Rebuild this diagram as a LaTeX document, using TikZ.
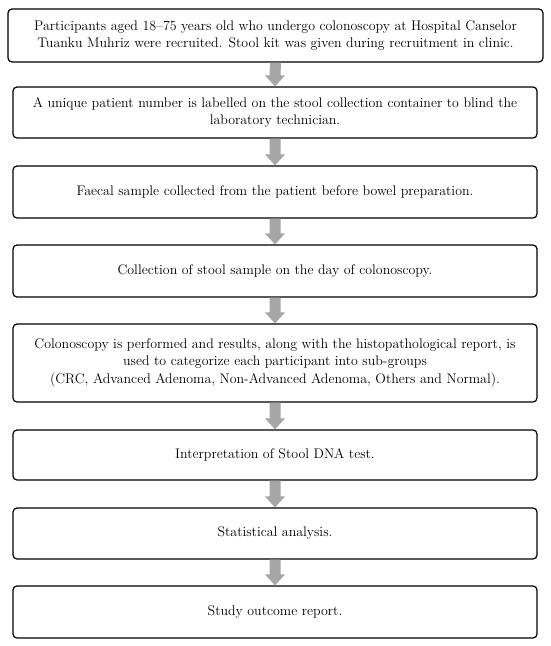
\documentclass[tikz,border=0pt]{standalone}
\usetikzlibrary{calc}
\definecolor{arrowgray}{HTML}{A6A6A6}
\tikzset{
  stepbox/.style={draw=black, line width=1.2pt, rounded corners=4pt, align=center,
    inner sep=0pt, font=\fontsize{13.9}{17}\selectfont},
}
\newcommand{\flowarrow}[2]{%
  \fill[arrowgray] ($(#1.south)+(-5.5,0)$) -- ($(#2.north)+(-5.5,-11)$) -- ($(#2.north)+(-10,-11)$)
    -- (#2.north) -- ($(#2.north)+(10,-11)$) -- ($(#2.north)+(5.5,-11)$) -- ($(#1.south)+(5.5,0)$) -- cycle;}
\begin{document}
\begin{tikzpicture}[x=1pt,y=-1pt]
\useasboundingbox (0,0) rectangle (550,646);
\node[stepbox, minimum width=535pt, minimum height=53pt] (b1) at (275.5,35.5)
  {Participants aged 18--75 years old who undergo colonoscopy at Hospital Canselor\\Tuanku Muhriz were recruited. Stool kit was given during recruitment in clinic.};
\node[stepbox, minimum width=524pt, minimum height=51pt] (b2) at (275,112.5)
  {A unique patient number is labelled on the stool collection container to blind the\\laboratory technician.};
\node[stepbox, minimum width=524pt, minimum height=52pt] (b3) at (275,192)
  {Faecal sample collected from the patient before bowel preparation.};
\node[stepbox, minimum width=524pt, minimum height=52pt] (b4) at (275,271)
  {Collection of stool sample on the day of colonoscopy.};
\node[stepbox, minimum width=524pt, minimum height=78pt] (b5) at (275,363)
  {Colonoscopy is performed and results, along with the histopathological report, is\\used to categorize each participant into sub-groups\\[1pt](CRC, Advanced Adenoma, Non-Advanced Adenoma, Others and Normal).};
\node[stepbox, minimum width=524pt, minimum height=50pt] (b6) at (275,455)
  {Interpretation of Stool DNA test.};
\node[stepbox, minimum width=524pt, minimum height=51pt] (b7) at (275,533.5)
  {Statistical analysis.};
\node[stepbox, minimum width=524pt, minimum height=52pt] (b8) at (275,612)
  {Study outcome report.};
\flowarrow{b1}{b2}
\flowarrow{b2}{b3}
\flowarrow{b3}{b4}
\flowarrow{b4}{b5}
\flowarrow{b5}{b6}
\flowarrow{b6}{b7}
\flowarrow{b7}{b8}
\end{tikzpicture}
\end{document}
